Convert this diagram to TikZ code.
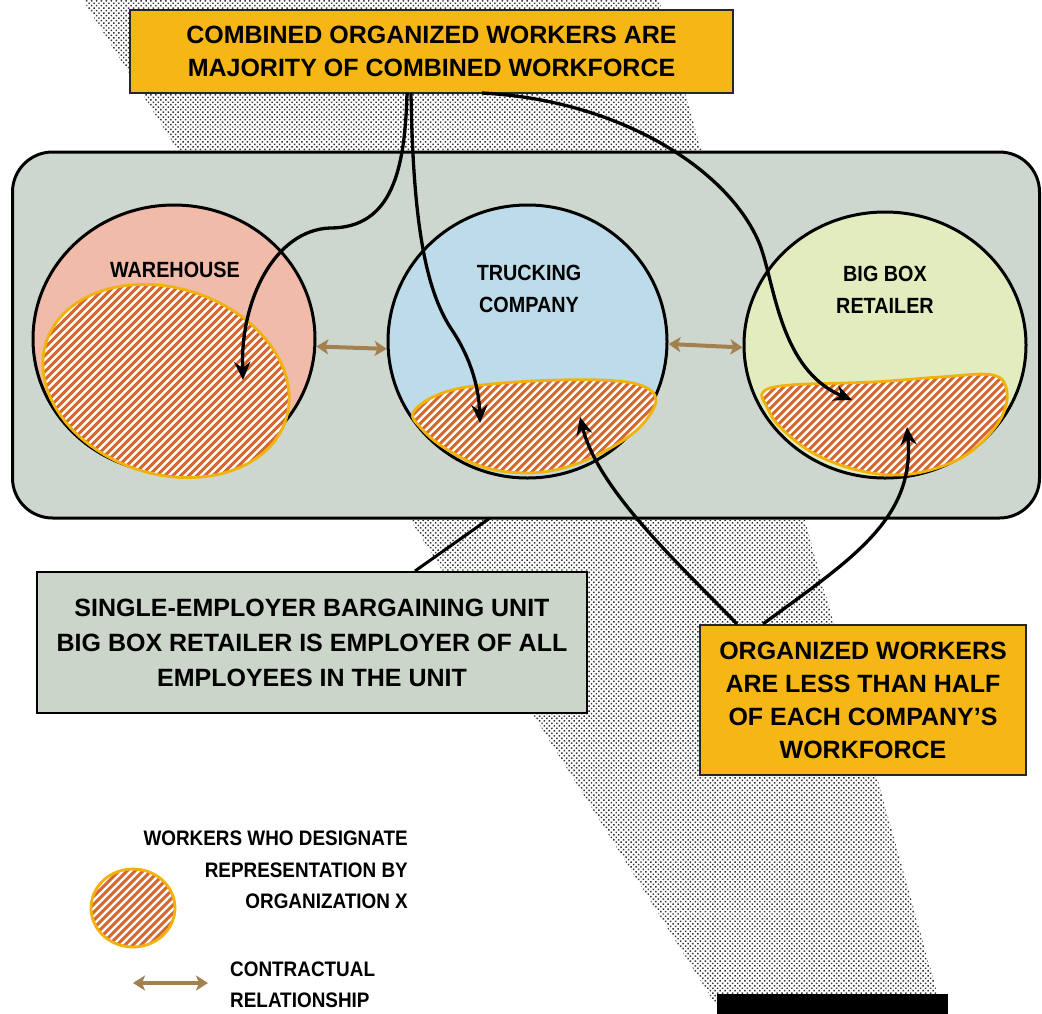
\documentclass[tikz,border=0pt]{standalone}
\usepackage{fontspec}
\setmainfont{Liberation Sans}
\newfontfamily\condf[FakeStretch=0.9]{Liberation Sans}
\usetikzlibrary{shapes.geometric,arrows.meta,patterns.meta}
\definecolor{unitgray}{RGB}{206,215,205}
\definecolor{singlegray}{RGB}{203,213,202}
\definecolor{whpink}{RGB}{240,187,168}
\definecolor{trblue}{RGB}{189,219,233}
\definecolor{bbgreen}{RGB}{227,236,191}
\definecolor{boxorange}{RGB}{246,183,22}
\definecolor{hatchorange}{RGB}{212,104,48}
\definecolor{hatchborder}{RGB}{242,178,10}
\definecolor{contract}{RGB}{163,128,80}
\tikzset{
  company/.style={ellipse, draw=black, line width=3pt, inner sep=0pt},
  hatch/.style={draw=hatchborder, line width=2.8pt, fill=white,
    path picture={\foreach \k in {-320,-312,...,320}
      \draw[hatchorange, line width=3pt] ([xshift=\k pt]path picture bounding box.south west) -- ++(330pt,330pt);}},
  clabel/.style={font=\condf\bfseries\fontsize{22}{32}\selectfont, align=center, inner sep=0pt},
  orangebox/.style={draw=black!85, line width=1.5pt, fill=boxorange, align=center,
    font=\bfseries\fontsize{25}{33}\selectfont, inner sep=0pt},
  graybox/.style={draw=black, line width=1.5pt, fill=singlegray, align=center,
    font=\bfseries\fontsize{25}{35}\selectfont, inner sep=0pt},
  pointer/.style={draw=black, line width=3.3pt, -{Stealth[length=18pt,width=16pt,inset=6pt]}},
  contractarrow/.style={draw=contract, line width=4pt, {Stealth[length=12pt,width=15pt,inset=3pt]}-{Stealth[length=12pt,width=15pt,inset=3pt]}},
  legendtext/.style={font=\condf\bfseries\fontsize{21}{31.5}\selectfont, inner sep=0pt}
}
\begin{document}
\begin{tikzpicture}[x=1pt,y=-1pt]
\useasboundingbox (0,0) rectangle (1042,1013);
\fill[white] (0,0) rectangle (1042,1013);
% dotted band
\fill[pattern={Dots[distance=3.5pt,radius=1.05pt,angle=45]}, pattern color=black!80]
  (83,0) -- (659,0) -- (943,1013) -- (721,1013) -- cycle;
% bargaining unit box
\node[draw=black, line width=3pt, fill=unitgray, rounded corners=40pt,
  minimum width=1027pt, minimum height=366pt, inner sep=0pt] (unit) at (526,335) {};
% companies
\node[company, fill=whpink, minimum width=282pt, minimum height=268pt] (wh) at (174,339) {};
\node[company, fill=trblue, minimum width=279pt, minimum height=273pt] (tr) at (527.5,341.5) {};
\node[company, fill=bbgreen, minimum width=282pt, minimum height=266pt] (bb) at (885,345) {};
% organized workers (hatched)
\draw[hatch] plot[domain=0:360, samples=73]
  ({166+126*cos(\x)*cos(18)-93*sin(\x)*sin(18)}, {381+126*cos(\x)*sin(18)+93*sin(\x)*cos(18)});
\draw[hatch] plot[smooth cycle, tension=0.6] coordinates {
  (413,413) (433,397) (467,387) (533,381) (600,380) (640,385) (656,400)
  (640,427) (607,450) (567,467) (527,473) (483,467) (443,447) (420,427)};
\draw[hatch] plot[smooth cycle, tension=0.6] coordinates {
  (763,392) (790,385) (873,382) (940,377) (993,375) (1007,392) (1000,420)
  (973,450) (940,467) (900,475) (857,470) (813,453) (780,427) (767,407)};
% company labels
\node[clabel] (whl) at (175,270) {WAREHOUSE};
\node[clabel] (trl) at (529,289) {TRUCKING\\COMPANY};
\node[clabel] (bbl) at (885,290) {BIG BOX\\RETAILER};
% contractual relationships
\draw[contractarrow] (wh.-3) -- (tr.183);
\draw[contractarrow] (tr.-1) -- (bb.181);
% top box
\node[orangebox, minimum width=603pt, minimum height=83pt] (top) at (431.5,51.5)
  {COMBINED ORGANIZED WORKERS ARE\\MAJORITY OF COMBINED WORKFORCE};
\coordinate (tA) at (407,93);
\coordinate (tB) at (411,93);
\coordinate (tC) at (482,93);
\coordinate (whtip) at (243,380);
\coordinate (trtip) at (480,423);
\coordinate (bbtip) at (852,400);
\draw[pointer] (tA) .. controls (405,170) and (392,228) .. (330,228)
  .. controls (275,230) and (240,300) .. (whtip);
\draw[pointer] (tB) .. controls (413,220) and (425,290) .. (452,330)
  .. controls (472,360) and (479,390) .. (trtip);
\draw[pointer] (tC) .. controls (620,100) and (730,170) .. (760,245)
  .. controls (775,285) and (780,370) .. (bbtip);
% single employer box
\node[graybox, minimum width=550pt, minimum height=141pt] (single) at (312,642.5)
  {SINGLE-EMPLOYER BARGAINING UNIT\\BIG BOX RETAILER IS EMPLOYER OF ALL\\EMPLOYEES IN THE UNIT};
\coordinate (sA) at (415,571);
\coordinate (sB) at (490,518);
\draw[line width=3pt] (sA) -- (sB);
% bottom right box
\node[orangebox, minimum width=326pt, minimum height=150pt] (less) at (863,700)
  {ORGANIZED WORKERS\\ARE LESS THAN HALF\\OF EACH COMPANY’S\\WORKFORCE};
\coordinate (lA) at (737,624);
\coordinate (lB) at (763,624);
\coordinate (trtip2) at (580,417);
\coordinate (bbtip2) at (907,427);
\draw[pointer] (lA) .. controls (680,565) and (598,490) .. (trtip2);
\draw[pointer] (lB) .. controls (850,560) and (915,520) .. (bbtip2);
% legend
\draw[hatch] (133,908) ellipse [x radius=42, y radius=39];
\node[legendtext, anchor=east, align=right] (leg1) at (408,870)
  {WORKERS WHO DESIGNATE\\REPRESENTATION BY\\ORGANIZATION X};
\coordinate (cA) at (133,983);
\coordinate (cB) at (208,983);
\draw[contractarrow] (cA) -- (cB);
\node[legendtext, anchor=west, align=left] (leg2) at (230,985)
  {CONTRACTUAL\\RELATIONSHIP};
% figure tag
\node[fill=black, minimum width=231pt, minimum height=30pt, anchor=north west, inner sep=0pt] (fig) at (717,994) {};
\end{tikzpicture}
\end{document}
